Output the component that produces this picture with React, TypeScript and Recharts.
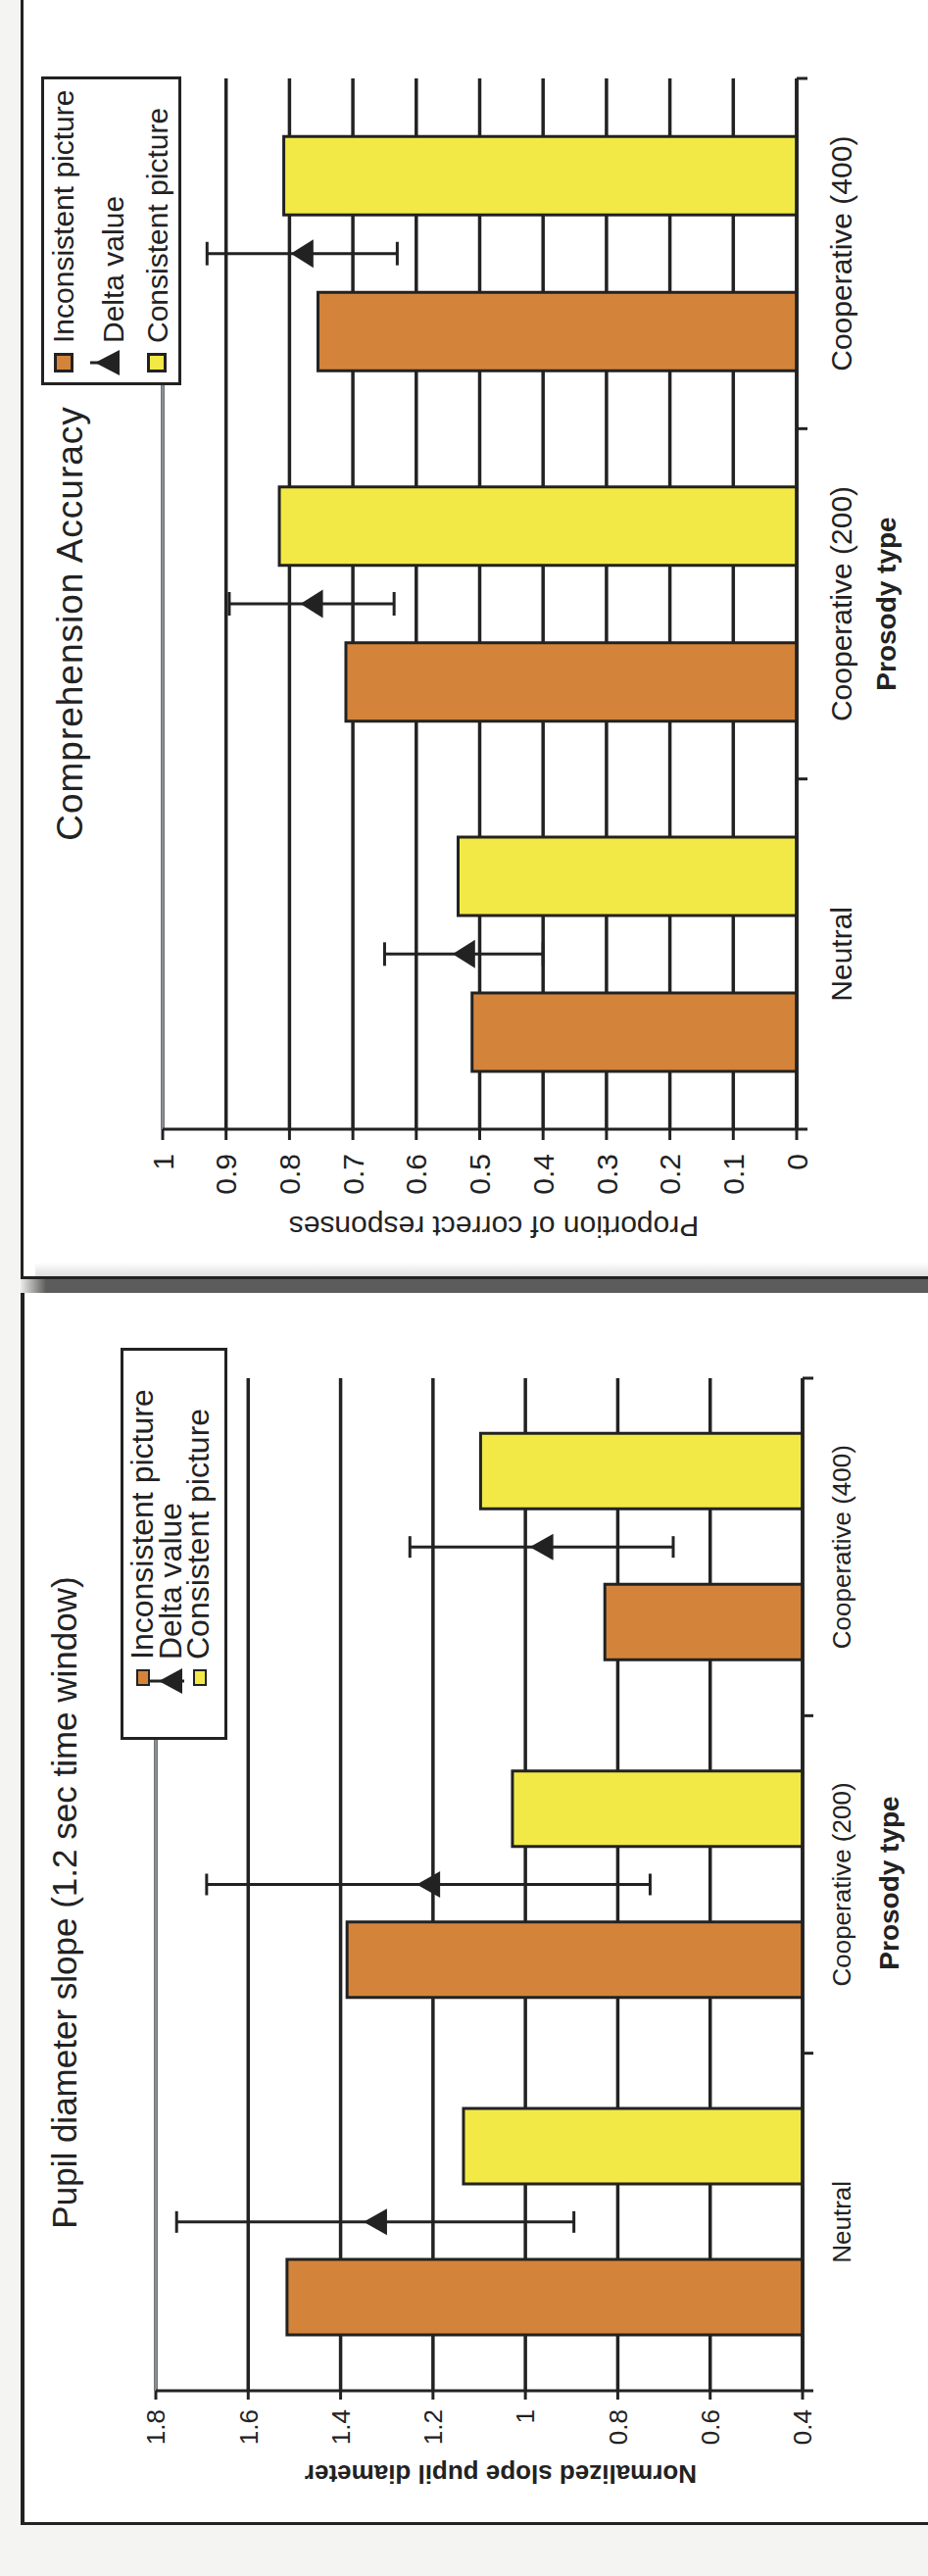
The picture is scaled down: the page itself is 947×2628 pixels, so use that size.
import React from "react";
import {
  ComposedChart,
  Bar,
  Scatter,
  ErrorBar,
  XAxis,
  YAxis,
  CartesianGrid,
  ReferenceLine,
} from "recharts";

const FONT = "'Liberation Sans', Arial, Helvetica, sans-serif";
const INK = "#222222";
const GRAY = "#8a8e96";
const ORANGE = "#d4843a";
const YELLOW = "#f2e946";

const categories = ["Neutral", "Cooperative (200)", "Cooperative (400)"];
const legendLabels = ["Inconsistent picture", "Delta value", "Consistent picture"];

// Comprehension accuracy (top panel)
const accInconsistent = [0.512, 0.711, 0.755];
const accConsistent = [0.534, 0.816, 0.809];
const accDelta = [0.525, 0.765, 0.78];
const accDeltaErr = [0.125, 0.13, 0.15];
const accTicks = [0, 0.1, 0.2, 0.3, 0.4, 0.5, 0.6, 0.7, 0.8, 0.9, 1];

// Pupil diameter slope (bottom panel)
const pupInconsistent = [1.516, 1.386, 0.828];
const pupConsistent = [1.134, 1.028, 1.097];
const pupDelta = [1.325, 1.21, 0.965];
const pupDeltaErr = [0.43, 0.48, 0.285];
const pupTicks = [0.4, 0.6, 0.8, 1, 1.2, 1.4, 1.6, 1.8];

const rows = (incon: number[], cons: number[], delta: number[], err: number[]) =>
  categories.map((name, i) => ({
    name,
    incon: incon[i],
    cons: cons[i],
    delta: delta[i],
    err: err[i],
  }));

// the picture is the chart turned a quarter turn counter-clockwise
function Rotated({ left, top, w, h, children }: any) {
  return (
    <div style={{ position: "absolute", left, top, width: h, height: w }}>
      <div
        style={{
          position: "absolute",
          left: 0,
          top: 0,
          width: w,
          height: h,
          transformOrigin: "0 0",
          transform: `translateY(${w}px) rotate(-90deg)`,
        }}
      >
        {children}
      </div>
    </div>
  );
}

function Label({ cx, cy, size, bold, turn, spacing, children }: any) {
  return (
    <div
      style={{
        position: "absolute",
        left: cx,
        top: cy,
        transform: `translate(-50%, -50%)${turn ? " rotate(-90deg)" : ""}`,
        fontFamily: FONT,
        fontSize: size,
        lineHeight: `${size}px`,
        fontWeight: bold ? 700 : 400,
        letterSpacing: spacing || 0,
        whiteSpace: "nowrap",
        color: INK,
      }}
    >
      {children}
    </div>
  );
}

function Legend({ box, font, textLeft, textCenters, sw, swU, swV, swBorder, tri, line }: any) {
  const rel = (u: number, v: number) => [u - box.left, v - box.top];
  const [ou, ov0] = rel(swU, swV[0]);
  const [, ov1] = rel(swU, swV[1]);
  const [tu, tv0] = rel(tri.u, tri.v0);
  const [, tv1] = rel(tri.u, tri.v1);
  const [, lv0] = rel(tri.u, line[0]);
  const [, lv1] = rel(tri.u, line[1]);
  return (
    <div
      style={{
        position: "absolute",
        left: box.left,
        top: box.top,
        width: box.width,
        height: box.height,
        boxSizing: "border-box",
        border: `3px solid ${INK}`,
        background: "#fff",
      }}
    >
      <svg
        width={box.width}
        height={box.height}
        style={{ position: "absolute", left: -3, top: -3 }}
      >
        <rect x={ou + swBorder / 2} y={ov0 + swBorder / 2} width={sw.w - swBorder} height={sw.h - swBorder} fill={ORANGE} stroke={INK} strokeWidth={swBorder} />
        <rect x={ou + swBorder / 2} y={ov1 + swBorder / 2} width={sw.w - swBorder} height={sw.h - swBorder} fill={YELLOW} stroke={INK} strokeWidth={swBorder} />
        <line x1={tu} x2={tu} y1={lv0} y2={lv1} stroke={INK} strokeWidth={3} />
        <polygon
          points={`${tu},${tv0} ${tu - tri.base / 2},${tv1} ${tu + tri.base / 2},${tv1}`}
          fill={INK}
        />
      </svg>
      {legendLabels.map((t, i) => (
        <div
          key={t}
          style={{
            position: "absolute",
            left: textLeft - box.left - 3,
            top: textCenters[i] - box.top - 3 - font / 2,
            fontFamily: FONT,
            fontSize: font,
            lineHeight: `${font}px`,
            whiteSpace: "nowrap",
            color: INK,
          }}
        >
          {t}
        </div>
      ))}
    </div>
  );
}

function CatTick(props: any) {
  const { x, y, payload, index, band, offset, fontSize } = props;
  const last = index === categories.length - 1;
  return (
    <g>
      <line x1={x - band / 2} x2={x - band / 2} y1={y} y2={y + 11} stroke={INK} strokeWidth={3} />
      {last && (
        <line x1={x + band / 2} x2={x + band / 2} y1={y} y2={y + 11} stroke={INK} strokeWidth={3} />
      )}
      <text
        x={x}
        y={y + offset}
        dy="0.358em"
        textAnchor="middle"
        fontSize={fontSize}
        fontFamily={FONT}
        fill={INK}
      >
        {payload.value}
      </text>
    </g>
  );
}

function BarPanel(p: any) {
  const plotW = p.w - p.margin.left - 100 - p.margin.right;
  const band = plotW / categories.length;
  return (
    <ComposedChart
      width={p.w}
      height={p.h}
      data={p.data}
      margin={p.margin}
      barSize={p.barSize}
      barGap={p.barGap}
    >
      <CartesianGrid horizontal vertical={false} stroke={INK} strokeWidth={3.5} />
      <XAxis
        dataKey="name"
        type="category"
        interval={0}
        height={60}
        tickSize={0}
        tickMargin={0}
        tickLine={false}
        axisLine={{ stroke: INK, strokeWidth: 3.5 }}
        tick={(t: any) => (
          <CatTick {...t} band={band} offset={p.catOffset} fontSize={p.catFont} />
        )}
      />
      <YAxis
        domain={p.domain}
        ticks={p.ticks}
        width={100}
        allowDataOverflow
        tickSize={p.tickSize}
        tickMargin={p.tickMargin}
        tickLine={{ stroke: INK, strokeWidth: 3 }}
        axisLine={{ stroke: INK, strokeWidth: 3 }}
        tick={{ fill: INK, fontSize: p.tickFont, fontFamily: FONT }}
      />
      <YAxis
        yAxisId="border"
        orientation="right"
        width={0}
        domain={p.domain}
        tick={false}
        tickLine={false}
        axisLine={{ stroke: GRAY, strokeWidth: 3 }}
      />
      <ReferenceLine y={p.domain[1]} stroke={GRAY} strokeWidth={3} />
      <Bar dataKey="incon" fill={ORANGE} stroke={INK} strokeWidth={3} isAnimationActive={false} />
      <Bar dataKey="cons" fill={YELLOW} stroke={INK} strokeWidth={3} isAnimationActive={false} />
      <Scatter
        dataKey="delta"
        isAnimationActive={false}
        shape={(s: any) =>
          s.cx == null ? (
            <g />
          ) : (
            <polygon
              points={`${s.cx},${s.cy - p.tri.h / 2} ${s.cx - p.tri.b / 2},${s.cy + p.tri.h / 2} ${s.cx + p.tri.b / 2},${s.cy + p.tri.h / 2}`}
              fill={INK}
            />
          )
        }
      >
        <ErrorBar dataKey="err" direction="y" width={p.capW} stroke={INK} strokeWidth={3} />
      </Scatter>
    </ComposedChart>
  );
}

export default function App() {
  return (
    <div
      style={{
        position: "absolute",
        left: 0,
        top: 0,
        width: 947,
        height: 2628,
        background: "#f4f4f2",
        overflow: "hidden",
      }}
    >
      <div
        style={{
          position: "absolute",
          left: 21,
          top: -5,
          width: 940,
          height: 1310,
          boxSizing: "border-box",
          background: "#fff",
          borderLeft: `3px solid ${INK}`,
          borderBottom: `3px solid ${INK}`,
        }}
      />
      <div
        style={{
          position: "absolute",
          left: 36,
          top: 1288,
          width: 911,
          height: 14,
          background: "linear-gradient(to bottom, rgba(0,0,0,0), rgba(0,0,0,0.13))",
        }}
      />
      <div
        style={{
          position: "absolute",
          left: 21,
          top: 1305,
          width: 926,
          height: 14,
          background: "linear-gradient(to right, #ecece9 0px, #5c5c5c 26px)",
        }}
      />
      <div
        style={{
          position: "absolute",
          left: 21,
          top: 1319,
          width: 940,
          height: 1257,
          boxSizing: "border-box",
          background: "#fff",
          borderLeft: `4px solid ${INK}`,
          borderBottom: `3px solid ${INK}`,
        }}
      />

      <Rotated left={30} top={30} w={1260} h={910}>
        <BarPanel
          w={1260}
          h={910}
          margin={{ top: 136, right: 50, bottom: 67, left: 38 }}
          data={rows(accInconsistent, accConsistent, accDelta, accDeltaErr)}
          domain={[0, 1]}
          ticks={accTicks}
          barSize={80}
          barGap={79}
          tickFont={30}
          tickSize={11}
          tickMargin={14}
          catFont={30}
          catOffset={45}
          tri={{ b: 29, h: 23 }}
          capW={12}
        />
        <Label cx={654} cy={41} size={37} spacing={1}>
          Comprehension Accuracy
        </Label>
        <Label cx={674} cy={875} size={28} bold>
          Prosody type
        </Label>
        <Label cx={39} cy={474} size={30} turn>
          Proportion of correct responses
        </Label>
        <Legend
          box={{ left: 897, top: 12, width: 315, height: 143 }}
          font={30}
          textLeft={940}
          textCenters={[35, 85.5, 131]}
          sw={{ w: 20, h: 20 }}
          swU={910}
          swV={[25, 120]}
          swBorder={3}
          tri={{ u: 920, v0: 67, v1: 92, base: 26 }}
          line={[62, 92]}
        />
      </Rotated>

      <Rotated left={30} top={1330} w={1230} h={910}>
        <BarPanel
          w={1230}
          h={910}
          margin={{ top: 129, right: 76, bottom: 61, left: 21 }}
          data={rows(pupInconsistent, pupConsistent, pupDelta, pupDeltaErr)}
          domain={[0.4, 1.8]}
          ticks={pupTicks}
          barSize={77}
          barGap={77}
          tickFont={26}
          tickSize={9}
          tickMargin={10}
          catFont={26}
          catOffset={40}
          tri={{ b: 27, h: 24 }}
          capW={11}
        />
        <Label cx={619} cy={35} size={35}>
          Pupil diameter slope (1.2 sec time window)
        </Label>
        <Label cx={639} cy={878} size={28} bold>
          Prosody type
        </Label>
        <Label cx={36} cy={481} size={26} bold turn>
          Normalized slope pupil diameter
        </Label>
        <Legend
          box={{ left: 785, top: 93, width: 400, height: 109 }}
          font={32}
          textLeft={867}
          textCenters={[115, 144, 171.5]}
          sw={{ w: 17, h: 14 }}
          swU={840}
          swV={[109, 167]}
          swBorder={2}
          tri={{ u: 845, v0: 132, v1: 156, base: 26 }}
          line={[123, 158]}
        />
      </Rotated>
    </div>
  );
}
